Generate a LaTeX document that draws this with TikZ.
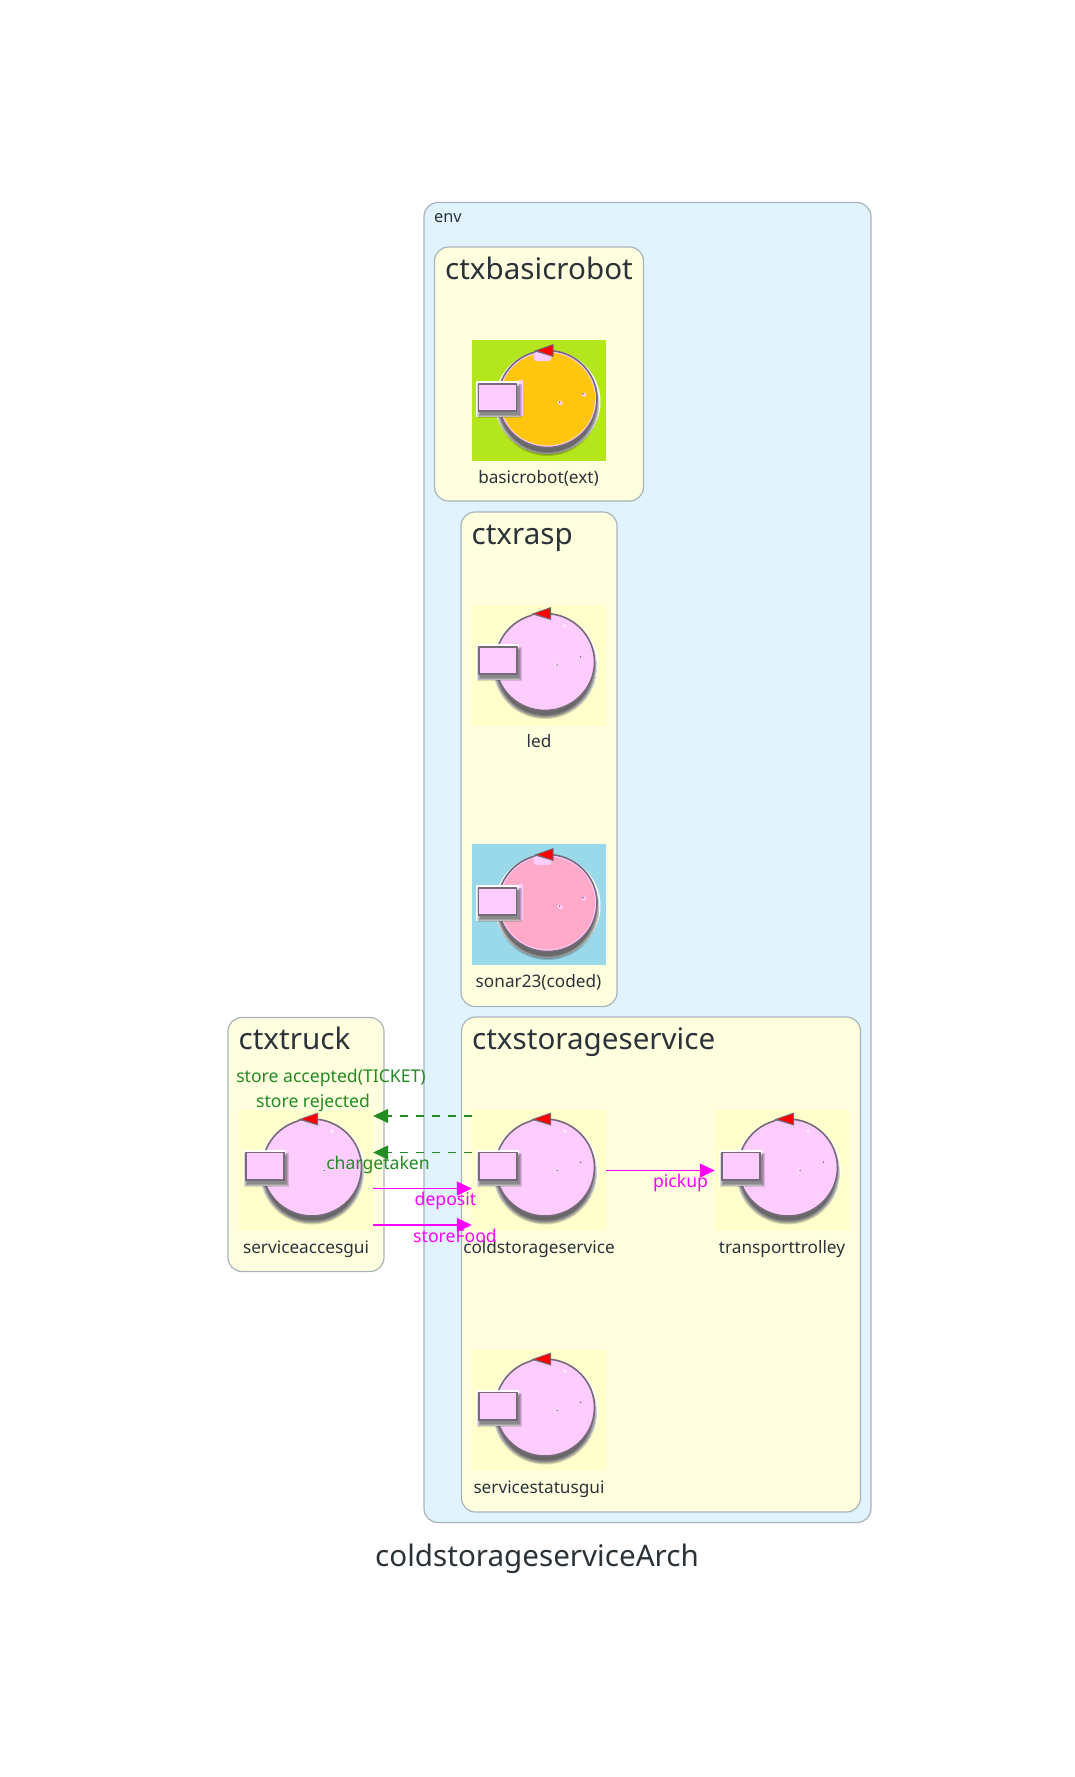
\documentclass[tikz,border=0pt]{standalone}
\usepackage{fontspec}
\setmainfont{Noto Sans}
\usetikzlibrary{positioning,arrows.meta}

\definecolor{envblue}{HTML}{E1F4FD}
\definecolor{ctxyellow}{HTML}{FFFFE0}
\definecolor{imgyellow}{HTML}{FFFFCC}
\definecolor{edgegray}{HTML}{A9B3BC}
\definecolor{inkgray}{HTML}{2B3338}
\definecolor{bodypink}{HTML}{FFCCFF}
\definecolor{rimgray}{HTML}{756A78}
\definecolor{limegreen}{HTML}{B3E61C}
\definecolor{amber}{HTML}{FFC60F}
\definecolor{skyblue}{HTML}{99D9EA}
\definecolor{rosepink}{HTML}{FFAAC9}
\definecolor{gotgreen}{HTML}{228B22}
\definecolor{callpink}{HTML}{FF00FF}

\tikzset{
    envbox/.style={draw=edgegray, fill=envblue, line width=1.2pt, rounded corners=14pt, inner sep=0pt},
    ctxbox/.style={draw=edgegray, fill=ctxyellow, line width=1.2pt, rounded corners=14pt, inner sep=0pt},
    ctxtitle/.style={anchor=base west, inner sep=0pt, text=inkgray, font=\fontsize{29.6}{32}\selectfont},
    robotimg/.style={minimum width=134pt, minimum height=121pt, inner sep=0pt},
    robotlabel/.style={inner sep=0pt, text height=12pt, text depth=4pt, text=inkgray, font=\fontsize{17.2}{18}\selectfont},
    edgelabel/.style={inner sep=0pt, font=\fontsize{17.6}{18}\selectfont},
    replyedge/.style={gotgreen, line width=1.2pt, dash pattern=on 8pt off 8pt, -{Triangle[length=15pt, width=14pt]}},
    calledge/.style={callpink, line width=1.2pt, -{Triangle[length=15pt, width=14pt]}}
}

% one robot picture with its name under it, #6 moves the round body inside the picture
\newcommand{\robotactor}[6]{
    \node (#1) [robotimg, fill=#3] at (#2) {};
    \begin{scope}[shift={(#1.center)}]
        \begin{scope}[shift={(#6,#6/2)}]
            \fill[white] (6,0) ellipse [x radius=53pt, y radius=52pt];
            \foreach \r in {52,51,50,49,48}
                \fill[black, opacity=.16] (6,2) ellipse [x radius=\r pt, y radius=\r pt];
            \draw[rimgray, fill=bodypink, line width=1.6pt] (6,-3) ellipse [x radius=49.5pt, y radius=48.5pt];
            \fill[#4] (6,-3) ellipse [x radius=47.5pt, y radius=46.5pt];
            \fill[bodypink, rounded corners=3pt] (-8,-50) rectangle (10,-41);
            \fill[rimgray] (-8,-51) -- (12,-58) -- (12,-45) -- cycle;
            \fill[red] (-4,-51.5) -- (11,-56.5) -- (11,-46.5) -- cycle;
            \ifnum#6=0 \fill[white] (26,-39.3) circle [radius=1.6pt]; \fi
            \fill[bodypink] (19,1) circle [radius=2.2pt];
            \fill[bodypink] (42.5,-7.3) circle [radius=2.2pt];
            \fill[white] (17.3,0) circle [radius=1.5pt];
            \fill[rimgray] (18,0) circle [radius=.8pt];
            \fill[rimgray] (41.5,-8.3) circle [radius=.9pt];
        \end{scope}
        \begin{scope}[yshift=-#6 pt/2]
            \fill[white] (-63,-21) rectangle (-18,15);
            \fill[bodypink] (-20,-22) rectangle (-16,14);
            \foreach \g in {0,1,2,3}
                \fill[black, opacity=.14] ({-62+\g},{-18+\g}) rectangle ({-17-\g},{16-\g});
            \draw[rimgray, fill=bodypink, line width=1.6pt] (-60,-18.2) rectangle (-22,9.2);
        \end{scope}
    \end{scope}
    \node (#1-label) [robotlabel, below=10pt of #1] {#5};
}

\begin{document}
\begin{tikzpicture}[x=1pt, y=-1pt]

    \useasboundingbox[fill=white] (0,0) rectangle (1074,1777);

    % the boxes
    \node (env) [envbox, minimum width=447pt, minimum height=1320pt] at (647.5,862.5) {};
    \node (envname) [anchor=base west, inner sep=0pt, text=inkgray, font=\fontsize{16.4}{18}\selectfont]
        at ([shift={(10.5,21)}]env.north west) {env};

    \node (ctxtruck) [ctxbox, minimum width=156pt, minimum height=254pt] at (306,1144.5) {};
    \node (ctxtruckname) [ctxtitle] at ([shift={(11,33)}]ctxtruck.north west) {ctxtruck};

    \node (ctxbasicrobot) [ctxbox, minimum width=209pt, minimum height=254pt] at (539,374) {};
    \node (ctxbasicrobotname) [ctxtitle] at ([shift={(11,33)}]ctxbasicrobot.north west) {ctxbasicrobot};

    \node (ctxrasp) [ctxbox, minimum width=156pt, minimum height=494.5pt] at (539,759.25) {};
    \node (ctxraspname) [ctxtitle] at ([shift={(11,33)}]ctxrasp.north west) {ctxrasp};

    \node (ctxstorage) [ctxbox, minimum width=399pt, minimum height=495pt] at (661,1264.5) {};
    \node (ctxstoragename) [ctxtitle] at ([shift={(11,33)}]ctxstorage.north west) {ctxstorageservice};

    % the robots
    \robotactor{basicrobot}{538.5,400.5}{limegreen}{amber}{basicrobot(ext)}{3}
    \robotactor{led}{539,665}{imgyellow}{bodypink}{led}{0}
    \robotactor{sonar}{538.5,904.5}{skyblue}{rosepink}{sonar23(coded)}{3}
    \robotactor{serviceaccesgui}{306,1170.5}{imgyellow}{bodypink}{serviceaccesgui}{0}
    \robotactor{coldstorageservice}{539,1170.5}{imgyellow}{bodypink}{coldstorageservice}{0}
    \robotactor{transporttrolley}{782,1170.5}{imgyellow}{bodypink}{transporttrolley}{0}
    \robotactor{servicestatusgui}{539,1410.5}{imgyellow}{bodypink}{servicestatusgui}{0}

    % the arrows
    \draw[replyedge] ([yshift=54.5pt]coldstorageservice.west) -- ([yshift=54.5pt]serviceaccesgui.east);
    \draw[replyedge] ([yshift=18pt]coldstorageservice.west) -- ([yshift=18pt]serviceaccesgui.east);
    \draw[calledge] ([yshift=-18pt]serviceaccesgui.east) -- ([yshift=-18pt]coldstorageservice.west);
    \draw[calledge] ([yshift=-54.5pt]serviceaccesgui.east) -- ([yshift=-54.5pt]coldstorageservice.west);
    \draw[calledge] (coldstorageservice.east) -- (transporttrolley.west);

    \node (accepted) [edgelabel, gotgreen] at (331,1078) {store accepted(TICKET)};
    \node (rejected) [edgelabel, gotgreen] at (313,1103) {store rejected};
    \node (chargetaken) [edgelabel, gotgreen] at (378,1165) {chargetaken};
    \node (deposit) [edgelabel, callpink] at (445.5,1201) {deposit};
    \node (storefood) [edgelabel, callpink] at (455,1236) {storeFood};
    \node (pickup) [edgelabel, callpink] at (680.5,1183) {pickup};

    \node (title) [inner sep=0pt, text=inkgray, font=\fontsize{29.6}{32}\selectfont] at (537,1559) {coldstorageserviceArch};

\end{tikzpicture}
\end{document}
